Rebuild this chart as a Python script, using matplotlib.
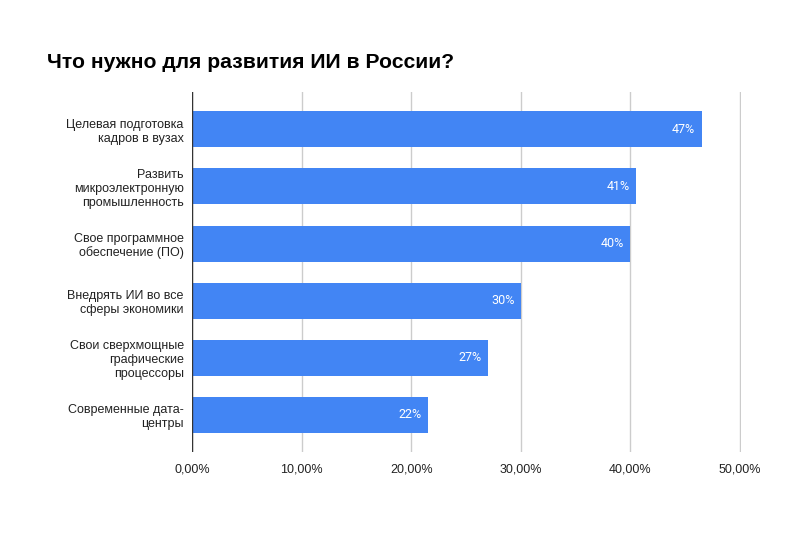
import matplotlib
matplotlib.use("Agg")
import math
import matplotlib.pyplot as plt

categories = [
    "Целевая подготовка\nкадров в вузах",
    "Развить\nмикроэлектронную\nпромышленность",
    "Свое программное\nобеспечение (ПО)",
    "Внедрять ИИ во все\nсферы экономики",
    "Свои сверхмощные\nграфические\nпроцессоры",
    "Современные дата-\nцентры",
]
values = [46.5, 40.5, 40.0, 30.0, 27.0, 21.5]
x_ticks = [0, 10, 20, 30, 40, 50]
x_tick_labels = ["0,00%", "10,00%", "20,00%", "30,00%", "40,00%", "50,00%"]

BLUE = "#4285F4"

plt.rcParams["font.family"] = ["Liberation Sans", "DejaVu Sans"]

fig = plt.figure(figsize=(8, 5.33), dpi=100, facecolor="white")
ax = fig.add_axes([0.24, 0.152, 0.6865, 0.675])

pos = list(range(len(categories)))
ax.barh(pos, values, height=0.63, color=BLUE, zorder=3)
for p, v in zip(pos, values):
    ax.text(v - 0.6, p, f"{math.floor(v + 0.5)}%", color="white", ha="right",
            va="center", fontsize=9, family=["Roboto", "DejaVu Sans"], zorder=4)

ax.set_ylim(5.65, -0.65)
ax.set_xlim(0, 50.1)
ax.set_yticks(pos)
ax.set_yticklabels(categories, fontsize=9, color="#222222")
ax.set_xticks(x_ticks)
ax.set_xticklabels(x_tick_labels, fontsize=9, color="#222222")
ax.tick_params(axis="both", length=0)
ax.tick_params(axis="y", pad=6)
ax.tick_params(axis="x", pad=8)

ax.grid(axis="x", color="#cccccc", linewidth=1, zorder=0)
for s in ax.spines.values():
    s.set_visible(False)
ax.axvline(0, color="#333333", linewidth=1, zorder=5)

fig.text(47 / 800, 1 - 62 / 533, "Что нужно для развития ИИ в России?",
         fontsize=15.2, fontweight="bold", color="#000000", va="center", ha="left")

fig.savefig("out.png", dpi=100, facecolor="white")
